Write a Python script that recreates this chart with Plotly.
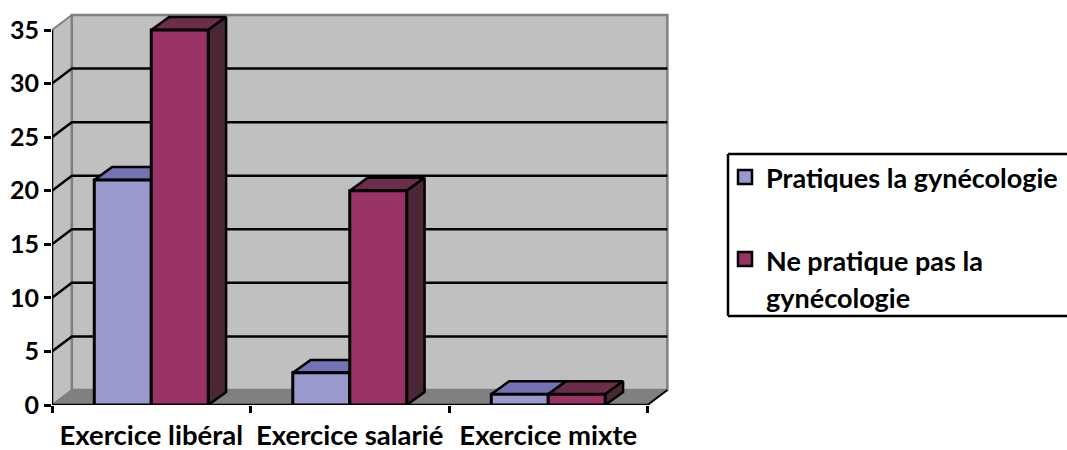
import plotly.graph_objects as go

categories = ["Exercice libéral", "Exercice salarié", "Exercice mixte"]
pratiques = [21, 3, 1]
ne_pratique = [35, 20, 1]
y_ticks = [0, 5, 10, 15, 20, 25, 30, 35]
series_names = ["Pratiques la gynécologie", "Ne pratique pas la", "gynécologie"]

W, H = 1067, 450
ML, MB = 52, 45
PX_X = 198.5            # pixels per category
PX_Y = 10.714           # pixels per value unit
X0, Y_TOP = -0.5, (H - MB) / PX_Y
X_END = X0 + (W - ML) / PX_X
X_MAX = 2.5
WALL_DX, WALL_DY = 0.1, 1.4
BAR_DX, BAR_DY = 0.09, 1.21
BAR_W = 0.287
FONT = "Lato"

front = ["#9999CC", "#993366"]
top = ["#7373B3", "#6B2D4A"]
side = ["#5C5C8F", "#4B2635"]


def px(x_px):
    return X0 + (x_px - ML) / PX_X


def py(y_px):
    return (H - MB - y_px) / PX_Y


fig = go.Figure()


def poly(xs, ys, fill, line, width):
    fig.add_trace(go.Scatter(
        x=xs + xs[:1], y=ys + ys[:1], mode="lines", fill="toself", fillcolor=fill,
        line=dict(color=line, width=width), hoverinfo="skip", showlegend=False,
        cliponaxis=False,
    ))


def path(xs, ys, color, width):
    fig.add_trace(go.Scatter(
        x=xs, y=ys, mode="lines", line=dict(color=color, width=width),
        hoverinfo="skip", showlegend=False, cliponaxis=False,
    ))


y_max = y_ticks[-1]
# walls and floor
poly([X0, X0 + WALL_DX, X0 + WALL_DX, X0], [0, WALL_DY, y_max + WALL_DY, y_max], "#C0C0C0", "#808080", 2)
poly([X0 + WALL_DX, X_MAX + WALL_DX, X_MAX + WALL_DX, X0 + WALL_DX],
     [WALL_DY, WALL_DY, y_max + WALL_DY, y_max + WALL_DY], "#C0C0C0", "#808080", 2.5)
poly([X0, X0 + WALL_DX, X_MAX + WALL_DX, X_MAX], [0, WALL_DY, WALL_DY, 0], "#808080", "#808080", 1)

# gridlines on the walls
for v in y_ticks[1:-1]:
    path([X0, X0 + WALL_DX, X_MAX + WALL_DX], [v, v + WALL_DY, v + WALL_DY], "black", 2.5)

# axis lines
path([X0, X_MAX], [0, 0], "black", 2.5)
path([X0, X0], [0, y_max], "black", 2.5)
path([X_MAX, X_MAX + WALL_DX], [0, WALL_DY], "black", 2)

# depth faces of the bars
for s, vals in enumerate([pratiques, ne_pratique]):
    for i, v in enumerate(vals):
        left = i + (s - 1) * BAR_W
        right = left + BAR_W
        poly([left, left + BAR_DX, right + BAR_DX, right], [v, v + BAR_DY, v + BAR_DY, v], top[s], "black", 2.5)
        poly([right, right + BAR_DX, right + BAR_DX, right], [0, BAR_DY, v + BAR_DY, v], side[s], "black", 2.5)

# front faces, on an overlaid subplot so they sit above the depth faces
for s, vals in enumerate([pratiques, ne_pratique]):
    fig.add_trace(go.Bar(
        x=[0, 1, 2], y=vals, width=BAR_W, offset=(s - 1) * BAR_W, name=series_names[s],
        marker=dict(color=front[s], line=dict(color="black", width=3)),
        xaxis="x2", yaxis="y2", cliponaxis=False, showlegend=False,
    ))

# legend
LEG_L, LEG_T, LEG_B = 728, 154, 316
shapes = [
    dict(type="line", xref="x", yref="y", x0=px(LEG_L), x1=px(W + 5), y0=py(LEG_T), y1=py(LEG_T), line=dict(color="black", width=2.5)),
    dict(type="line", xref="x", yref="y", x0=px(LEG_L), x1=px(W + 5), y0=py(LEG_B), y1=py(LEG_B), line=dict(color="black", width=2.5)),
    dict(type="line", xref="x", yref="y", x0=px(LEG_L), x1=px(LEG_L), y0=py(LEG_T), y1=py(LEG_B), line=dict(color="black", width=2.5)),
]
for s, yc in enumerate([177, 259]):
    shapes.append(dict(type="rect", xref="x", yref="y", x0=px(738), x1=px(752), y0=py(yc - 7), y1=py(yc + 7),
                       fillcolor=front[s], line=dict(color="black", width=2.5)))
annotations = [
    dict(x=px(764), y=py(yc), xref="x", yref="y", text=t, showarrow=False, xanchor="left", yanchor="middle",
         font=dict(family=FONT, size=27, color="black", weight="bold"))
    for t, yc in zip(series_names, [177, 260, 297])
]

fig.update_layout(
    width=W, height=H, margin=dict(l=ML, r=0, t=0, b=MB, autoexpand=False),
    paper_bgcolor="white", plot_bgcolor="white", showlegend=False,
    barmode="overlay",
    font=dict(family=FONT, color="black"),
    shapes=shapes, annotations=annotations,
    xaxis=dict(range=[X0, X_END], tickmode="array", tickvals=[0, 1, 2], ticktext=categories,
               ticklen=0, ticklabelstandoff=11, showgrid=False, zeroline=False, showline=False,
               tickfont=dict(family=FONT, size=27.5, color="black", weight="bold")),
    yaxis=dict(range=[0, Y_TOP], tickmode="array", tickvals=y_ticks, ticks="outside", ticklen=7, tickwidth=2.5,
               tickcolor="black", showgrid=False, zeroline=False, showline=False,
               tickfont=dict(family=FONT, size=25, color="black", weight="bold")),
    xaxis2=dict(range=[X0, X_END], overlaying="x", anchor="y2", side="bottom", tickmode="array",
                tickvals=[-0.5, 0.5, 1.5, 2.5], ticktext=["", "", "", ""], ticks="outside", ticklen=7, tickwidth=2.5,
                tickcolor="black", showgrid=False, zeroline=False, showline=False),
    yaxis2=dict(range=[0, Y_TOP], overlaying="y", anchor="x2", visible=False),
)

fig.write_html("out.html", config=dict(displayModeBar=False), post_script="document.body.style.margin='0';")
